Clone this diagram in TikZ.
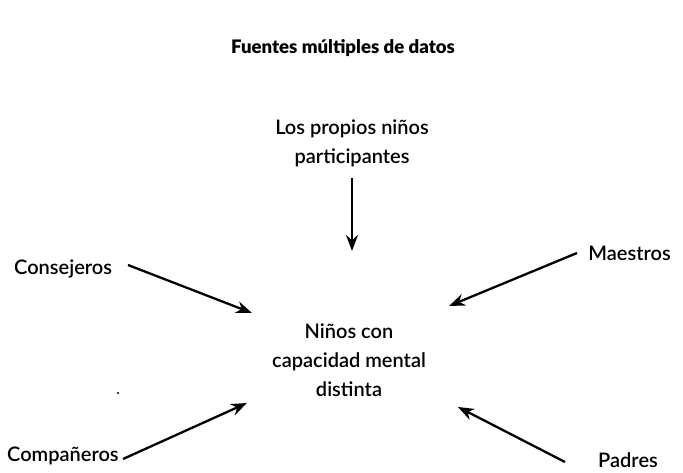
\documentclass[tikz,border=0pt]{standalone}
\usepackage{fontspec}
\setmainfont{Lato}
\newfontfamily\semib{Lato Semibold}
\newfontfamily\heavy{Lato Black}
\usetikzlibrary{arrows.meta}
\begin{document}
\begin{tikzpicture}[x=1pt,y=-1pt,
  lbl/.style={font=\semib\fontsize{20}{29}\selectfont, align=center, inner sep=0pt},
  arr/.style={line width=2.3pt, -{Stealth[length=16pt,width=12pt]}}]
\useasboundingbox (0,0) rectangle (683,473);
\node[font=\heavy\fontsize{18.6}{20}\selectfont, inner sep=0pt] (title) at (343,48) {Fuentes múltiples de datos};
\node[lbl] (ninos) at (352,143) {Los propios niños\\participantes};
\node[lbl, anchor=west] (cons) at (14,269) {Consejeros};
\node[lbl, anchor=east] (maes) at (671,253) {Maestros};
\node[lbl] (centro) at (349,360) {Niños con\\capacidad mental\\distinta};
\node[lbl, anchor=west] (comp) at (7,456) {Compañeros};
\node[lbl, anchor=west] (padr) at (598,460) {Padres};
\coordinate (n1) at (352,178); \coordinate (n2) at (352,251);
\coordinate (c1) at (128,265); \coordinate (c2) at (252,313);
\coordinate (m1) at (577,253); \coordinate (m2) at (449,306);
\coordinate (p1) at (123,459); \coordinate (p2) at (247,403);
\coordinate (d1) at (565,462); \coordinate (d2) at (458,407);
\draw[arr] (n1) -- (n2);
\draw[arr] (c1) -- (c2);
\draw[arr] (m1) -- (m2);
\draw[arr] (p1) -- (p2);
\draw[arr] (d1) -- (d2);
\fill (118,393) circle (1.2pt);
\end{tikzpicture}
\end{document}
